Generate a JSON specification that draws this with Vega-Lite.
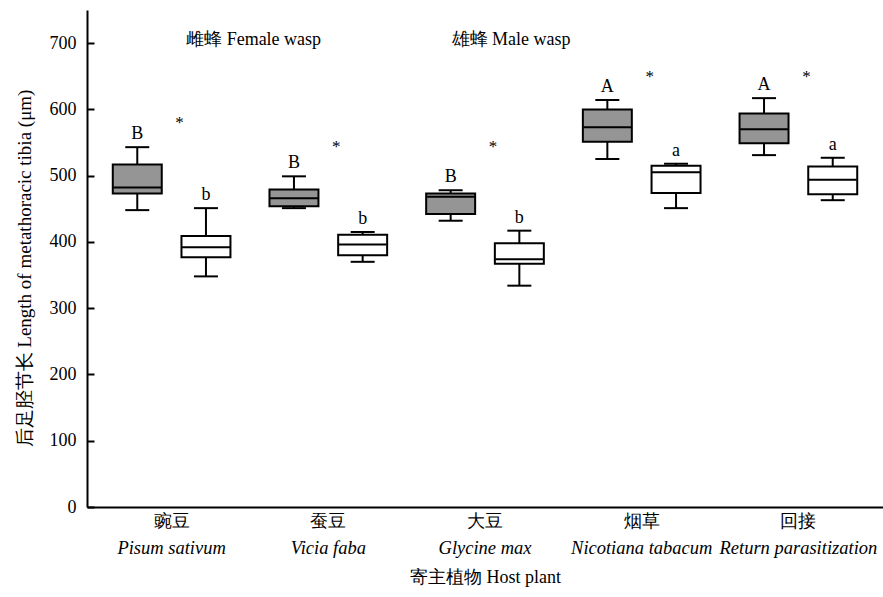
{
  "$schema": "https://vega.github.io/schema/vega-lite/v6.json",
  "width": 796,
  "height": 497,
  "autosize": "none",
  "padding": {"left": 87, "top": 10, "right": 0, "bottom": 90},
  "background": "white",
  "config": {
    "view": {"stroke": null},
    "font": "Liberation Serif",
    "text": {"font": "Liberation Serif", "color": "black"},
    "axis": {
      "domainColor": "black",
      "domainWidth": 2,
      "tickColor": "black",
      "tickWidth": 2,
      "labelColor": "black",
      "labelFont": "Liberation Serif",
      "labelFontSize": 18,
      "titleFont": "Liberation Serif",
      "titleFontSize": 18,
      "titleFontWeight": "normal",
      "titleColor": "black",
      "grid": false
    }
  },
  "datasets": {
    "boxes": [
      {"host": "豌豆", "sex": "F", "lower": 448, "q1": 473, "median": 482, "q3": 517, "upper": 543, "letter": "B"},
      {"host": "豌豆", "sex": "M", "lower": 348, "q1": 377, "median": 392, "q3": 409, "upper": 451, "letter": "b"},
      {"host": "蚕豆", "sex": "F", "lower": 451, "q1": 454, "median": 466, "q3": 479, "upper": 499, "letter": "B"},
      {"host": "蚕豆", "sex": "M", "lower": 370, "q1": 380, "median": 396, "q3": 411, "upper": 415, "letter": "b"},
      {"host": "大豆", "sex": "F", "lower": 432, "q1": 442, "median": 468, "q3": 473, "upper": 478, "letter": "B"},
      {"host": "大豆", "sex": "M", "lower": 334, "q1": 367, "median": 374, "q3": 398, "upper": 417, "letter": "b"},
      {"host": "烟草", "sex": "F", "lower": 525, "q1": 551, "median": 573, "q3": 600, "upper": 614, "letter": "A"},
      {"host": "烟草", "sex": "M", "lower": 451, "q1": 474, "median": 505, "q3": 515, "upper": 518, "letter": "a"},
      {"host": "回接", "sex": "F", "lower": 531, "q1": 549, "median": 570, "q3": 594, "upper": 617, "letter": "A"},
      {"host": "回接", "sex": "M", "lower": 463, "q1": 472, "median": 494, "q3": 514, "upper": 527, "letter": "a"}
    ],
    "hosts": [
      {"host": "豌豆", "sci": "Pisum sativum", "star": 572},
      {"host": "蚕豆", "sci": "Vicia faba", "star": 535},
      {"host": "大豆", "sci": "Glycine max", "star": 535},
      {"host": "烟草", "sci": "Nicotiana tabacum", "star": 641},
      {"host": "回接", "sci": "Return parasitization", "star": 642}
    ],
    "notes": [
      {"host": "豌豆", "label": "雌蜂 Female wasp", "y": 705},
      {"host": "大豆", "label": "雄蜂 Male wasp", "y": 705}
    ]
  },
  "encoding": {
    "x": {
      "field": "host",
      "type": "nominal",
      "sort": ["豌豆", "蚕豆", "大豆", "烟草", "回接"],
      "scale": {"paddingInner": 0, "paddingOuter": 0.04},
      "axis": {
        "title": "寄主植物 Host plant",
        "labelAngle": 0,
        "ticks": false,
        "labelPadding": 5,
        "titlePadding": 38
      }
    }
  },
  "layer": [
    {
      "data": {"name": "boxes"},
      "mark": {"type": "rule", "color": "black", "strokeWidth": 2},
      "encoding": {
        "xOffset": {"field": "sex", "type": "nominal", "sort": ["F", "M"], "scale": {"paddingInner": 0.287, "paddingOuter": 0.284}},
        "y": {
          "field": "lower",
          "type": "quantitative",
          "scale": {"domain": [0, 750], "nice": false},
          "axis": {
            "values": [0, 100, 200, 300, 400, 500, 600, 700],
            "tickSize": -7,
            "labelPadding": 18,
            "title": "后足胫节长 Length of metathoracic tibia (μm)",
            "titleFontSize": 19,
            "titleX": -63,
            "titleY": 258,
            "titleAlign": "center",
            "titleBaseline": "middle",
            "titleAngle": -90
          }
        },
        "y2": {"field": "upper"}
      }
    },
    {
      "data": {"name": "boxes"},
      "mark": {"type": "bar", "stroke": "black", "strokeWidth": 2},
      "encoding": {
        "xOffset": {"field": "sex", "type": "nominal", "sort": ["F", "M"]},
        "y": {"field": "q1", "type": "quantitative"},
        "y2": {"field": "q3"},
        "fill": {"field": "sex", "type": "nominal", "scale": {"domain": ["F", "M"], "range": ["#959595", "#ffffff"]}, "legend": null}
      }
    },
    {
      "data": {"name": "boxes"},
      "mark": {"type": "tick", "color": "black", "thickness": 2, "size": 48, "opacity": 1},
      "encoding": {
        "xOffset": {"field": "sex", "type": "nominal", "sort": ["F", "M"]},
        "y": {"field": "median", "type": "quantitative"}
      }
    },
    {
      "data": {"name": "boxes"},
      "mark": {"type": "tick", "color": "black", "thickness": 2, "size": 24, "opacity": 1},
      "encoding": {
        "xOffset": {"field": "sex", "type": "nominal", "sort": ["F", "M"]},
        "y": {"field": "lower", "type": "quantitative"}
      }
    },
    {
      "data": {"name": "boxes"},
      "mark": {"type": "tick", "color": "black", "thickness": 2, "size": 24, "opacity": 1},
      "encoding": {
        "xOffset": {"field": "sex", "type": "nominal", "sort": ["F", "M"]},
        "y": {"field": "upper", "type": "quantitative"}
      }
    },
    {
      "data": {"name": "boxes"},
      "mark": {"type": "text", "fontSize": 18, "baseline": "alphabetic", "dy": -8, "align": "center"},
      "encoding": {
        "xOffset": {"field": "sex", "type": "nominal", "sort": ["F", "M"]},
        "y": {"field": "upper", "type": "quantitative"},
        "text": {"field": "letter"}
      }
    },
    {
      "data": {"name": "hosts"},
      "mark": {"type": "text", "fontSize": 17, "baseline": "alphabetic", "dx": 8, "align": "center", "color": "#000000"},
      "encoding": {
        "y": {"field": "star", "type": "quantitative"},
        "text": {"value": "*"}
      }
    },
    {
      "data": {"name": "hosts"},
      "mark": {"type": "text", "fontSize": 18.5, "fontStyle": "italic", "baseline": "middle", "dy": 41, "align": "center"},
      "encoding": {
        "y": {"datum": 0, "type": "quantitative"},
        "text": {"field": "sci"}
      }
    },
    {
      "data": {"name": "notes"},
      "transform": [{"filter": "datum.host == '豌豆'"}],
      "mark": {"type": "text", "fontSize": 18, "baseline": "middle", "dx": 82, "align": "center"},
      "encoding": {
        "y": {"field": "y", "type": "quantitative"},
        "text": {"field": "label"}
      }
    },
    {
      "data": {"name": "notes"},
      "transform": [{"filter": "datum.host == '大豆'"}],
      "mark": {"type": "text", "fontSize": 18, "baseline": "middle", "dx": 26, "align": "center"},
      "encoding": {
        "y": {"field": "y", "type": "quantitative"},
        "text": {"field": "label"}
      }
    }
  ]
}
